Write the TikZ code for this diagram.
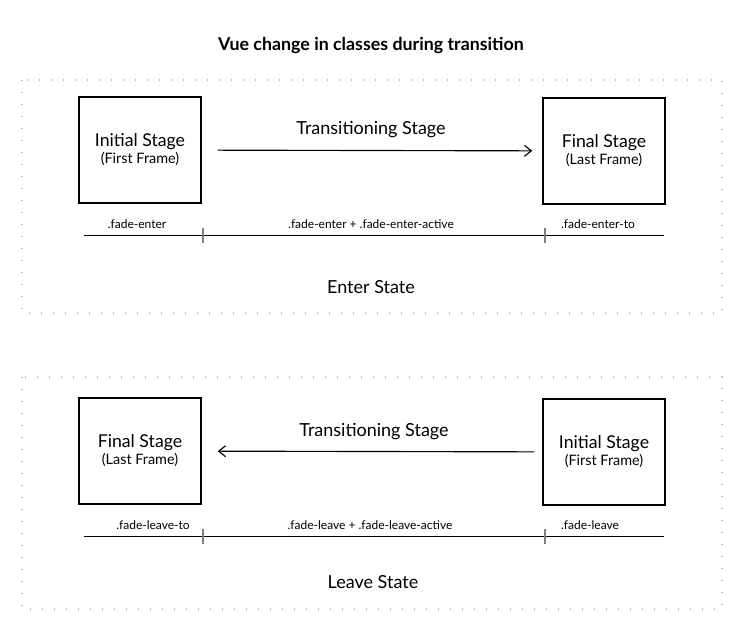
\documentclass[tikz,border=0pt]{standalone}
\usepackage{fontspec}
\setmainfont{Lato}
\usetikzlibrary{arrows.meta}

\tikzset{
    stagebox/.style={draw, line width=0.5mm, minimum width=122pt, minimum height=106pt, inner sep=0pt, align=center, font=\fontsize{17.7}{20}\selectfont},
    classlabel/.style={font=\fontsize{12}{14}\selectfont},
    frame/.style={draw=gray!55, line width=1.3pt, dash pattern=on 1.3pt off 10.7pt},
    trans/.style={-{Straight Barb[length=7pt,width=11pt]}, line width=0.4mm},
}

\begin{document}
\begin{tikzpicture}[x=1pt, y=-1pt]
    \useasboundingbox (0,0) rectangle (750,640);
    \node[font=\bfseries\fontsize{17.8}{20}\selectfont] (title) at (371,45) {Vue change in classes during transition};

    % enter state
    \draw[frame] (22,80) rectangle (722,313);
    \node[stagebox] (enterInit) at (140,150) {Initial Stage\\[-3pt]{\fontsize{14.4}{16}\selectfont(First Frame)}};
    \node[stagebox] (enterFinal) at (604,151) {Final Stage\\[-3pt]{\fontsize{14.4}{16}\selectfont(Last Frame)}};
    \draw[trans, shorten <=16pt, shorten >=10pt] (enterInit) -- (enterFinal);
    \node[font=\fontsize{18}{20}\selectfont] (enterTrans) at (371,130) {Transitioning Stage};
    \coordinate (enterStart) at (84,235);
    \coordinate (enterEnd) at (664,235);
    \draw[line width=0.15mm] (enterStart) -- (enterEnd);
    \draw[gray, line width=0.5mm] (203,228) -- (203,243);
    \draw[gray, line width=0.5mm] (545,228) -- (545,243);
    \node[classlabel] (enterA) at (137,224) {.fade-enter};
    \node[classlabel] (enterB) at (371,224) {.fade-enter + .fade-enter-active};
    \node[classlabel] (enterC) at (598,224) {.fade-enter-to};
    \node[font=\fontsize{18}{20}\selectfont] (enterName) at (371,287) {Enter State};

    % leave state
    \draw[frame] (22,377) rectangle (722,609);
    \node[stagebox] (leaveFinal) at (140,451) {Final Stage\\[-3pt]{\fontsize{14.4}{16}\selectfont(Last Frame)}};
    \node[stagebox] (leaveInit) at (604,452) {Initial Stage\\[-3pt]{\fontsize{14.4}{16}\selectfont(First Frame)}};
    \draw[trans, shorten <=8pt, shorten >=16pt] (leaveInit) -- (leaveFinal);
    \node[font=\fontsize{18}{20}\selectfont] (leaveTrans) at (374,432) {Transitioning Stage};
    \coordinate (leaveStart) at (84,536);
    \coordinate (leaveEnd) at (664,536);
    \draw[line width=0.15mm] (leaveStart) -- (leaveEnd);
    \draw[gray, line width=0.5mm] (203,529) -- (203,544);
    \draw[gray, line width=0.5mm] (545,529) -- (545,544);
    \node[classlabel] (leaveA) at (153,525) {.fade-leave-to};
    \node[classlabel] (leaveB) at (370,525) {.fade-leave + .fade-leave-active};
    \node[classlabel] (leaveC) at (590,525) {.fade-leave};
    \node[font=\fontsize{18}{20}\selectfont] (leaveName) at (373,582) {Leave State};

\end{tikzpicture}
\end{document}
